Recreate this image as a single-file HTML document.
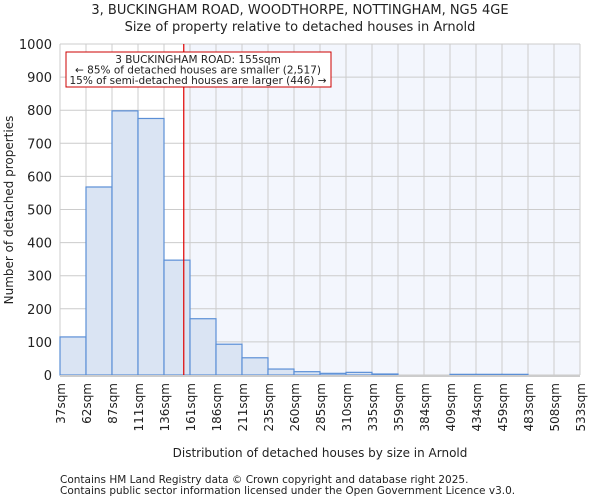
<!DOCTYPE html>
<html><head><meta charset="utf-8"><style>
body{margin:0;background:#fff;font-family:"DejaVu Sans","Liberation Sans",sans-serif;}
svg text{font-family:"DejaVu Sans","Liberation Sans",sans-serif;fill:#222;}
</style></head><body>
<svg id="chart" width="600" height="500" xmlns="http://www.w3.org/2000/svg">
<text x="300" y="14" text-anchor="middle" font-size="13">3, BUCKINGHAM ROAD, WOODTHORPE, NOTTINGHAM, NG5 4GE</text>
<text x="300" y="31" text-anchor="middle" font-size="13">Size of property relative to detached houses in Arnold</text>
<g id="plot"></g>
<text x="320" y="457" text-anchor="middle" font-size="12">Distribution of detached houses by size in Arnold</text>
<text transform="translate(13,210) rotate(-90)" text-anchor="middle" font-size="12">Number of detached properties</text>
<text x="60" y="483" font-size="10.5" fill="#444">Contains HM Land Registry data © Crown copyright and database right 2025.</text>
<text x="60" y="494" font-size="10.5" fill="#444">Contains public sector information licensed under the Open Government Licence v3.0.</text>
</svg>
<script>
const binLabels=["37sqm","62sqm","87sqm","111sqm","136sqm","161sqm","186sqm","211sqm","235sqm","260sqm","285sqm","310sqm","335sqm","359sqm","384sqm","409sqm","434sqm","459sqm","483sqm","508sqm","533sqm"];
const counts=[115,568,798,775,347,170,93,52,18,10,5,8,3,0,0,2,2,2,0,0];
const yTicks=[0,100,200,300,400,500,600,700,800,900,1000];
const propertySize=155;
const L=60,R=580,T=44,B=375,yMax=1000;
const bw=(R-L)/counts.length;
const xs=i=>L+i*bw;
const ys=v=>B-(v/yMax)*(B-T);
const xSize=s=>{for(let i=0;i<binLabels.length-1;i++){const a=parseFloat(binLabels[i]),b=parseFloat(binLabels[i+1]);if(s>=a&&s<=b)return xs(i)+(s-a)/(b-a)*bw;}return R;};
const g=document.getElementById('plot');
const NS="http://www.w3.org/2000/svg";
function mk(t,a){const e=document.createElementNS(NS,t);for(const k in a)e.setAttribute(k,a[k]);g.appendChild(e);return e;}
const rx=xSize(propertySize);
let e=mk('rect',{x:rx,y:T,width:R-rx,height:B-T,fill:'#f3f6fd'});


yTicks.forEach(v=>{
 let l=mk('line',{x1:L,x2:R,y1:ys(v),y2:ys(v),stroke:'#cccccc','stroke-width':1});
 
 
 let t=mk('text',{x:L-8,y:ys(v)+5,'text-anchor':'end','font-size':13});
 t.textContent=v;
 
 
});
binLabels.forEach((s,i)=>{
 let l=mk('line',{x1:xs(i),x2:xs(i),y1:T,y2:B,stroke:'#cccccc','stroke-width':1});
 
 
 let t=mk('text',{transform:`translate(${xs(i)+5},${B+8}) rotate(-90)`,'text-anchor':'end','font-size':12});
 t.textContent=s;
 
 
});
counts.forEach((c,i)=>{
 if(c<=0)return;
 let r=mk('rect',{x:xs(i),y:ys(c),width:bw,height:B-ys(c),fill:'#dae4f3',stroke:'#5b8fd6','stroke-width':1.2});
 
 
});
let ax=mk('line',{x1:L,x2:R,y1:B+1,y2:B+1,stroke:'#cccccc','stroke-width':2});


let ml=mk('line',{x1:rx,x2:rx,y1:T,y2:B,stroke:'#e00000','stroke-width':1.2});


let bx=mk('rect',{x:66,y:52,width:265,height:35,fill:'#fff',stroke:'#cc0000','stroke-width':1});


["3 BUCKINGHAM ROAD: 155sqm","← 85% of detached houses are smaller (2,517)","15% of semi-detached houses are larger (446) →"].forEach((s,i)=>{
 let t=mk('text',{x:198,y:63+i*10.5,'text-anchor':'middle','font-size':10.5});
 t.textContent=s;
 
 
});
</script>
</body></html>
